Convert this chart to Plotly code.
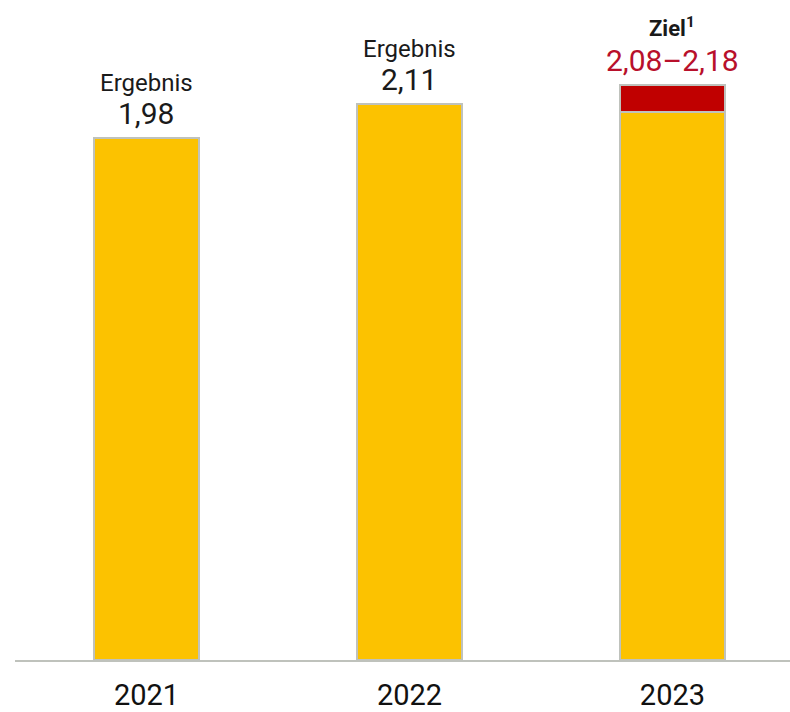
import plotly.graph_objects as go

# Values per year
years = ["2021", "2022", "2023"]
base_values = [1.98, 2.11, 2.08]          # result (2021, 2022) / lower target bound (2023)
range_values = [None, None, 0.10]         # span up to upper target bound 2,18
header_labels = ["Ergebnis", "Ergebnis", "<b>Ziel<sup>1</sup></b>"]
value_labels = ["1,98", "2,11", "2,08–2,18"]
value_colors = ["#1a1a1a", "#1a1a1a", "#b8102b"]
header_sizes = [24, 24, 22]
header_offsets = [39, 39, 42]

YELLOW = "#fcc200"
RED = "#c00000"
OUTLINE = "#bfc2bc"

fig = go.Figure()
fig.add_trace(go.Bar(
    x=years, y=base_values, width=0.4,
    marker=dict(color=YELLOW, line=dict(color=OUTLINE, width=2)),
    hoverinfo="skip",
))
fig.add_trace(go.Bar(
    x=years, y=range_values, width=0.4,
    marker=dict(color=RED, line=dict(color=OUTLINE, width=2)),
    hoverinfo="skip",
))

# Labels above each bar, anchored at the bar top
for i, yr in enumerate(years):
    top = base_values[i] + (range_values[i] or 0)
    fig.add_annotation(
        xref="x", yref="y", x=i, y=top, yanchor="bottom", yshift=5,
        showarrow=False, text=value_labels[i],
        font=dict(family="Roboto", size=30, color=value_colors[i]),
    )
    fig.add_annotation(
        xref="x", yref="y", x=i, y=top, yanchor="bottom",
        yshift=header_offsets[i], showarrow=False, text=header_labels[i],
        font=dict(family="Roboto", size=header_sizes[i], color="#1a1a1a"),
    )

fig.update_layout(
    width=790, height=712,
    margin=dict(l=15, r=0, t=0, b=52),
    barmode="stack",
    bargap=0,
    showlegend=False,
    plot_bgcolor="white",
    paper_bgcolor="white",
    xaxis=dict(
        type="category", range=[-0.5, 2.447], automargin=False,
        showline=True, linecolor=OUTLINE, linewidth=2,
        showgrid=False, ticks="", zeroline=False, ticklabelstandoff=8,
        tickfont=dict(family="Roboto", size=29, color="#111111"),
    ),
    yaxis=dict(
        range=[0, 2.504], showticklabels=False, showgrid=False,
        zeroline=False, showline=False, ticks="", automargin=False,
    ),
)

fig.write_html("out.html")
